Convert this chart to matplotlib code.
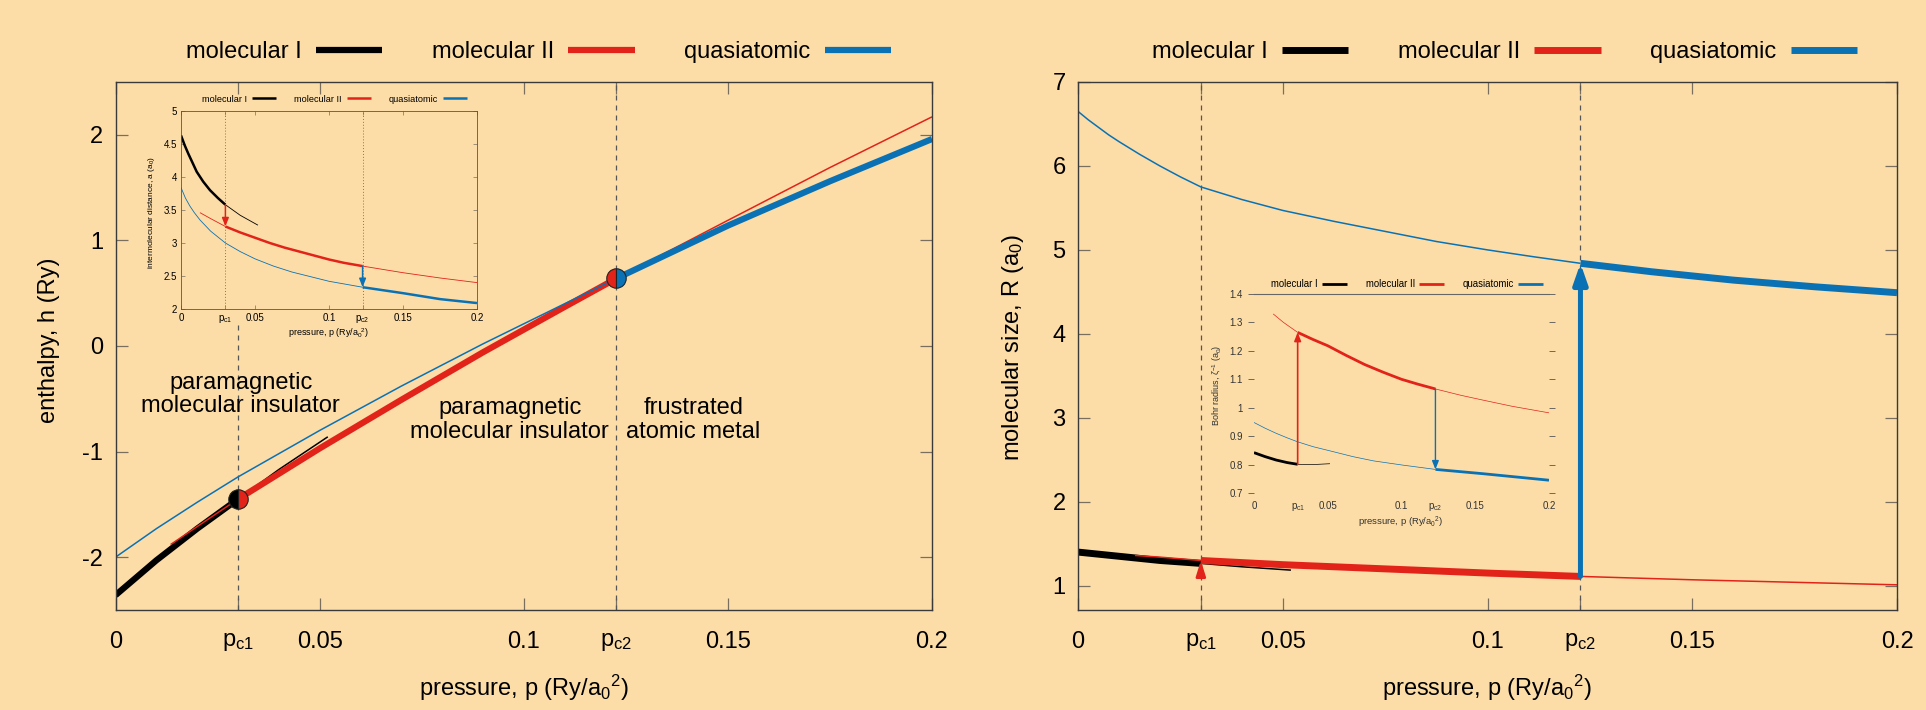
import matplotlib
matplotlib.use('Agg')
import matplotlib.pyplot as plt

plt.rcParams['font.family'] = ['Liberation Sans', 'DejaVu Sans']
plt.rcParams['mathtext.fontset'] = 'custom'
plt.rcParams['mathtext.rm'] = 'Liberation Sans'
plt.rcParams['mathtext.it'] = 'Liberation Sans:italic'
plt.rcParams['mathtext.default'] = 'regular'
plt.rcParams['axes.unicode_minus'] = False

BG = '#fcdda8'
RED = '#e2231a'
BLUE = '#0a72b4'
BLACK = '#000000'
SPINE = '#3a3a3a'
TICKC = '#7a6e5f'

# transition pressures
pc1 = 0.03
pc2 = 0.1227

xticks = [0, pc1, 0.05, 0.1, pc2, 0.15, 0.2]
xticklabels = ['0', 'p$_{c1}$', '0.05', '0.1', 'p$_{c2}$', '0.15', '0.2']
series_names = ['molecular I', 'molecular II', 'quasiatomic']

# ---- enthalpy (left main) ----
h_mol1_p = [0, 0.01, 0.02, 0.03]
h_mol1 = [-2.36, -2.03, -1.73, -1.45]
h_mol1_ext_p = [0.03, 0.04, 0.052]
h_mol1_ext = [-1.45, -1.17, -0.86]
h_mol2_pre_p = [0.0135, 0.02, 0.03]
h_mol2_pre = [-1.88, -1.71, -1.45]
h_mol2_p = [0.03, 0.05, 0.07, 0.09, 0.11, 0.1227]
h_mol2 = [-1.45, -0.97, -0.51, -0.06, 0.37, 0.64]
h_mol2_ext_p = [0.1227, 0.15, 0.175, 0.2]
h_mol2_ext = [0.64, 1.19, 1.69, 2.17]
h_qa_pre_p = [0, 0.01, 0.02, 0.03, 0.05, 0.07, 0.09, 0.11, 0.1227]
h_qa_pre = [-2.0, -1.73, -1.48, -1.24, -0.80, -0.38, 0.02, 0.40, 0.64]
h_qa_p = [0.1227, 0.15, 0.175, 0.2]
h_qa = [0.64, 1.14, 1.56, 1.96]
h_pc1 = -1.45
h_pc2 = 0.64

# ---- intermolecular distance (left inset) ----
a_mol1_p = [0, 0.0025, 0.005, 0.0075, 0.0106, 0.015, 0.0196, 0.025, 0.03]
a_mol1 = [4.63, 4.48, 4.35, 4.23, 4.08, 3.93, 3.80, 3.68, 3.58]
a_mol1_ext_p = [0.03, 0.04, 0.052]
a_mol1_ext = [3.58, 3.42, 3.27]
a_mol2_pre_p = [0.0128, 0.02, 0.03]
a_mol2_pre = [3.46, 3.37, 3.25]
a_mol2_p = [0.03, 0.04, 0.05, 0.06, 0.07, 0.08, 0.09, 0.1, 0.11, 0.1227]
a_mol2 = [3.25, 3.16, 3.08, 3.00, 2.93, 2.87, 2.81, 2.75, 2.70, 2.65]
a_mol2_ext_p = [0.1227, 0.15, 0.175, 0.2]
a_mol2_ext = [2.65, 2.55, 2.47, 2.40]
a_qa_pre_p = [0, 0.003, 0.006, 0.009, 0.0128, 0.02, 0.03, 0.04, 0.05,
              0.0625, 0.075, 0.0875, 0.1, 0.1227]
a_qa_pre = [3.84, 3.68, 3.56, 3.46, 3.35, 3.18, 3.00, 2.87, 2.76,
            2.65, 2.56, 2.49, 2.42, 2.33]
a_qa_p = [0.1227, 0.15, 0.175, 0.2]
a_qa = [2.33, 2.24, 2.15, 2.09]

# ---- molecular size (right main) ----
R_mol1_p = [0, 0.01, 0.02, 0.03]
R_mol1 = [1.40, 1.35, 1.30, 1.265]
R_mol1_ext_p = [0.03, 0.04, 0.052]
R_mol1_ext = [1.265, 1.225, 1.185]
R_mol2_pre_p = [0.0139, 0.02, 0.03]
R_mol2_pre = [1.36, 1.34, 1.30]
R_mol2_p = [0.03, 0.05, 0.075, 0.1, 0.1227]
R_mol2 = [1.30, 1.25, 1.20, 1.15, 1.11]
R_mol2_ext_p = [0.1227, 0.15, 0.175, 0.2]
R_mol2_ext = [1.11, 1.07, 1.04, 1.01]
R_qa_pre_p = [0, 0.0025, 0.005, 0.0075, 0.01, 0.015, 0.02, 0.025, 0.03, 0.04,
              0.05, 0.0625, 0.075, 0.0875, 0.1, 0.111, 0.1227]
R_qa_pre = [6.65, 6.55, 6.46, 6.37, 6.29, 6.14, 6.00, 5.87, 5.75, 5.60,
            5.47, 5.34, 5.22, 5.10, 5.00, 4.92, 4.84]
R_qa_p = [0.1227, 0.14, 0.16, 0.18, 0.2]
R_qa = [4.84, 4.74, 4.64, 4.56, 4.49]
R_arrow1 = (1.18, 1.30)
R_arrow2 = (1.11, 4.84)

# ---- Bohr radius (right inset) ----
z_mol1_p = [0, 0.0075, 0.015, 0.0225, 0.0296]
z_mol1 = [0.842, 0.828, 0.816, 0.807, 0.801]
z_mol1_ext_p = [0.0296, 0.04, 0.0515]
z_mol1_ext = [0.801, 0.800, 0.803]
z_mol2_pre_p = [0.013, 0.02, 0.0296]
z_mol2_pre = [1.33, 1.30, 1.265]
z_mol2_p = [0.0296, 0.04, 0.05, 0.0625, 0.075, 0.0875, 0.1, 0.111, 0.123]
z_mol2 = [1.265, 1.24, 1.218, 1.184, 1.152, 1.125, 1.10, 1.083, 1.066]
z_mol2_ext_p = [0.123, 0.14, 0.155, 0.175, 0.2]
z_mol2_ext = [1.066, 1.044, 1.027, 1.005, 0.982]
z_qa_pre_p = [0, 0.0075, 0.015, 0.0225, 0.0296, 0.04, 0.054, 0.067, 0.081, 0.101, 0.123]
z_qa_pre = [0.948, 0.928, 0.91, 0.894, 0.88, 0.863, 0.845, 0.828, 0.813, 0.798, 0.783]
z_qa_p = [0.123, 0.155, 0.2]
z_qa = [0.783, 0.768, 0.745]

W, H = 1926, 710
fig = plt.figure(figsize=(W / 100, H / 100), dpi=100, facecolor=BG)


def box(x0, y0, x1, y1):
    return [x0 / W, 1 - y1 / H, (x1 - x0) / W, (y1 - y0) / H]


def style_main(ax, ylim, yticks):
    ax.set_facecolor(BG)
    ax.set_xlim(0, 0.2)
    ax.set_ylim(*ylim)
    ax.set_xticks(xticks)
    ax.set_xticklabels(xticklabels)
    ax.set_yticks(yticks)
    ax.set_yticklabels([f'{t:g}' for t in yticks])
    ax.tick_params(direction='in', length=8.5, width=0.9, color=TICKC,
                   top=True, right=True, labelsize=17)
    ax.tick_params(axis='x', pad=15)
    ax.tick_params(axis='y', pad=9)
    for s in ax.spines.values():
        s.set_color(SPINE)
        s.set_linewidth(1.0)


def draw_set(ax, sets, thick, thin):
    lines = []
    for (pp, yy, pt, yt, col) in sets:
        for p_, y_ in zip(pp, yy):
            ax.plot(p_, y_, color=col, lw=thin, solid_capstyle='butt')
        l, = ax.plot(pt, yt, color=col, lw=thick, solid_capstyle='butt')
        lines.append(l)
    return lines


# ================= left main: enthalpy =================
ax1 = fig.add_axes(box(115.5, 82, 932, 610))
style_main(ax1, (-2.5, 2.5), [-2, -1, 0, 1, 2])
ax1.plot([pc1, pc1], [-2.5, 0.22], color='#555555', lw=0.9, ls=(0, (4, 4)))
ax1.plot([pc2, pc2], [-2.5, 2.5], color='#555555', lw=0.9, ls=(0, (4, 4)))
main_lines = draw_set(ax1, [
    ([h_mol1_ext_p], [h_mol1_ext], h_mol1_p, h_mol1, BLACK),
    ([h_mol2_pre_p, h_mol2_ext_p], [h_mol2_pre, h_mol2_ext], h_mol2_p, h_mol2, RED),
    ([h_qa_pre_p], [h_qa_pre], h_qa_p, h_qa, BLUE),
], thick=4.5, thin=1.1)
ax1.plot([pc1], [h_pc1], marker='o', ms=14, fillstyle='left', mfc=BLACK,
         markerfacecoloralt=RED, mec='#222222', mew=0.8, zorder=5)
ax1.plot([pc2], [h_pc2], marker='o', ms=14, fillstyle='left', mfc=RED,
         markerfacecoloralt=BLUE, mec='#222222', mew=0.8, zorder=5)
ax1.text(0.0307, -0.46, 'paramagnetic\nmolecular insulator', fontsize=17,
         ha='center', va='center', linespacing=1.1)
ax1.text(0.0966, -0.70, 'paramagnetic\nmolecular insulator', fontsize=17,
         ha='center', va='center', linespacing=1.1)
ax1.text(0.1415, -0.70, 'frustrated\natomic metal', fontsize=17,
         ha='center', va='center', linespacing=1.1)
fig.text(49 / W, 1 - 340 / H, 'enthalpy, h (Ry)', rotation=90, fontsize=17,
         ha='center', va='center')
fig.text(524 / W, 1 - 688 / H, 'pressure, p (Ry/a$_0$$^2$)', fontsize=17,
         ha='center', va='center')
fig.legend(main_lines, series_names, loc='center', ncol=3, frameon=False,
           markerfirst=False, fontsize=17, handlelength=2.8,
           handletextpad=0.6, columnspacing=2.1, borderpad=0,
           bbox_to_anchor=(538.5 / W, 1 - 52 / H))

# ================= left inset: intermolecular distance =================
ai = fig.add_axes(box(181, 111, 477, 309))
ai.set_facecolor(BG)
ai.set_xlim(0, 0.2)
ai.set_ylim(2, 5)
ai.set_xticks(xticks)
ai.set_xticklabels(xticklabels)
ai.set_yticks([2, 2.5, 3, 3.5, 4, 4.5, 5])
ai.set_yticklabels(['2', '2.5', '3', '3.5', '4', '4.5', '5'])
ai.tick_params(direction='in', length=3, width=0.5, color=TICKC,
               top=True, right=True, labelsize=7, pad=3)
for s in ai.spines.values():
    s.set_color('#555555')
    s.set_linewidth(0.6)
ai.plot([pc1, pc1], [2, 5], color='#777777', lw=0.7, ls=(0, (1, 2)))
ai.plot([pc2, pc2], [2, 5], color='#777777', lw=0.7, ls=(0, (1, 2)))
inset_lines = draw_set(ai, [
    ([a_mol1_ext_p], [a_mol1_ext], a_mol1_p, a_mol1, BLACK),
    ([a_mol2_pre_p, a_mol2_ext_p], [a_mol2_pre, a_mol2_ext], a_mol2_p, a_mol2, RED),
    ([a_qa_pre_p], [a_qa_pre], a_qa_p, a_qa, BLUE),
], thick=1.8, thin=0.6)
ai.annotate('', xy=(pc1, a_mol2[0]), xytext=(pc1, a_mol1[-1]),
            arrowprops=dict(arrowstyle='-|>,head_length=0.5,head_width=0.2',
                            color=RED, lw=1.1, shrinkA=0, shrinkB=0))
ai.annotate('', xy=(pc2, a_qa[0]), xytext=(pc2, a_mol2[-1]),
            arrowprops=dict(arrowstyle='-|>,head_length=0.5,head_width=0.2',
                            color=BLUE, lw=1.1, shrinkA=0, shrinkB=0))
fig.text(151 / W, 1 - 212 / H, 'intermolecular distance, a (a$_0$)', rotation=90,
         fontsize=6, ha='center', va='center')
fig.text(329 / W, 1 - 333 / H, 'pressure, p (Ry/a$_0$$^2$)', fontsize=6.5,
         ha='center', va='center')
fig.legend(inset_lines, series_names, loc='center', ncol=3, frameon=False,
           markerfirst=False, fontsize=6.6, handlelength=2.6,
           handletextpad=0.55, columnspacing=2.0, borderpad=0,
           bbox_to_anchor=(334.5 / W, 1 - 99 / H))

# ================= right main: molecular size =================
ax2 = fig.add_axes(box(1078, 82, 1897, 610))
style_main(ax2, (0.71, 7), [1, 2, 3, 4, 5, 6, 7])
ax2.plot([pc1, pc1], [0.71, 7], color='#555555', lw=0.9, ls=(0, (4, 4)))
ax2.plot([pc2, pc2], [0.71, 7], color='#555555', lw=0.9, ls=(0, (4, 4)))
main_lines2 = draw_set(ax2, [
    ([R_mol1_ext_p], [R_mol1_ext], R_mol1_p, R_mol1, BLACK),
    ([R_mol2_pre_p, R_mol2_ext_p], [R_mol2_pre, R_mol2_ext], R_mol2_p, R_mol2, RED),
    ([R_qa_pre_p], [R_qa_pre], R_qa_p, R_qa, BLUE),
], thick=5.0, thin=1.1)
ax2.annotate('', xy=(pc2, R_arrow2[1]), xytext=(pc2, R_arrow2[0]),
             arrowprops=dict(arrowstyle='-|>,head_length=1.2,head_width=0.42',
                             color=BLUE, lw=3.6, shrinkA=0, shrinkB=0), zorder=6)
ax2.annotate('', xy=(pc1, R_arrow1[1]), xytext=(pc1, R_arrow1[0]),
             arrowprops=dict(arrowstyle='-|>,head_length=0.9,head_width=0.28',
                             color=RED, lw=2.0, shrinkA=0, shrinkB=0), zorder=6)
fig.text(1013 / W, 1 - 347 / H, 'molecular size, R (a$_0$)', rotation=90,
         fontsize=17, ha='center', va='center')
fig.text(1487 / W, 1 - 688 / H, 'pressure, p (Ry/a$_0$$^2$)', fontsize=17,
         ha='center', va='center')
fig.legend(main_lines2, series_names, loc='center', ncol=3, frameon=False,
           markerfirst=False, fontsize=17, handlelength=2.8,
           handletextpad=0.6, columnspacing=2.1, borderpad=0,
           bbox_to_anchor=(1504.5 / W, 1 - 52 / H))

# ================= right inset: Bohr radius =================
bi = fig.add_axes(box(1254, 294, 1549, 493))
bi.set_facecolor(BG)
bi.set_xlim(0, 0.2)
bi.set_ylim(0.7, 1.4)
bi.set_xticks(xticks)
bi.set_xticklabels(xticklabels)
bi.set_yticks([0.7, 0.8, 0.9, 1.0, 1.1, 1.2, 1.3, 1.4])
bi.set_yticklabels(['0.7', '0.8', '0.9', '1', '1.1', '1.2', '1.3', '1.4'])
bi.tick_params(axis='x', length=0, labelsize=7, pad=6, labelcolor='#333333')
bi.tick_params(axis='y', direction='out', length=4, width=0.6, color='#555555',
               right=True, labelsize=7, pad=4, labelcolor='#333333')
for k in ['left', 'bottom', 'right']:
    bi.spines[k].set_visible(False)
bi.spines['top'].set_color('#666666')
bi.spines['top'].set_linewidth(0.8)
inset_lines2 = draw_set(bi, [
    ([z_mol1_ext_p], [z_mol1_ext], z_mol1_p, z_mol1, BLACK),
    ([z_mol2_pre_p, z_mol2_ext_p], [z_mol2_pre, z_mol2_ext], z_mol2_p, z_mol2, RED),
    ([z_qa_pre_p], [z_qa_pre], z_qa_p, z_qa, BLUE),
], thick=2.0, thin=0.5)
bi.annotate('', xy=(z_mol2_p[0], z_mol2[0]), xytext=(z_mol1_p[-1], z_mol1[-1]),
            arrowprops=dict(arrowstyle='-|>,head_length=0.5,head_width=0.2',
                            color=RED, lw=1.2, shrinkA=0, shrinkB=0))
bi.annotate('', xy=(z_qa_p[0], z_qa[0]), xytext=(z_mol2_p[-1], z_mol2[-1]),
            arrowprops=dict(arrowstyle='-|>,head_length=0.5,head_width=0.2',
                            color=BLUE, lw=1.0, shrinkA=0, shrinkB=0))
fig.text(1217 / W, 1 - 385 / H, 'Bohr radius, ζ$^{-1}$ (a$_0$)', rotation=90,
         fontsize=6.5, ha='center', va='center', color='#333333')
fig.text(1401 / W, 1 - 522 / H, 'pressure, p (Ry/a$_0$$^2$)', fontsize=6.8,
         ha='center', va='center', color='#333333')
fig.legend(inset_lines2, series_names, loc='center', ncol=3, frameon=False,
           markerfirst=False, fontsize=6.9, handlelength=2.6,
           handletextpad=0.4, columnspacing=2.0, borderpad=0,
           bbox_to_anchor=(1407 / W, 1 - 284 / H))

fig.savefig('out.png', dpi=100, facecolor=BG)
